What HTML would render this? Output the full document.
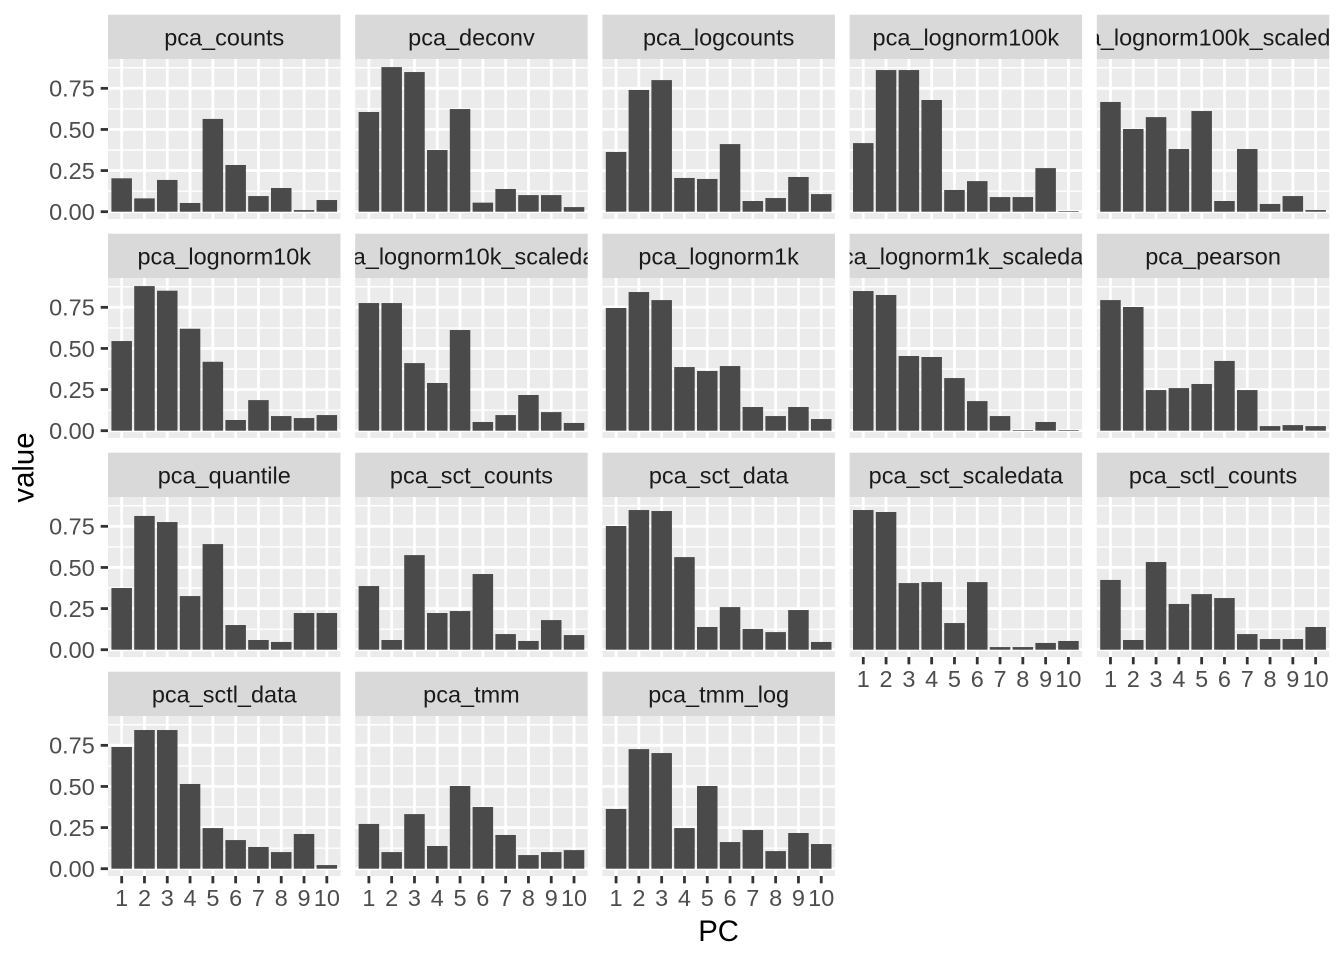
<!DOCTYPE html>
<html>
<head>
<meta charset="utf-8">
<style>
html,body{margin:0;padding:0;background:#fff;}
svg{display:block;}
text{font-family:"Liberation Sans",Arial,sans-serif;}
</style>
</head>
<body>
<svg width="1344" height="960" viewBox="0 0 1344 960" xmlns="http://www.w3.org/2000/svg">
<defs>
  <g id="grid">
    <rect x="0" y="-152.7" width="232.5" height="160" fill="#EBEBEB"/>
    <g stroke="#FFFFFF" stroke-width="1.4">
      <line x1="0" x2="232.5" y1="-20.56" y2="-20.56"/>
      <line x1="0" x2="232.5" y1="-61.69" y2="-61.69"/>
      <line x1="0" x2="232.5" y1="-102.81" y2="-102.81"/>
      <line x1="0" x2="232.5" y1="-143.94" y2="-143.94"/>
    </g>
    <g stroke="#FFFFFF" stroke-width="2.8">
      <line x1="0" x2="232.5" y1="0" y2="0"/>
      <line x1="0" x2="232.5" y1="-41.125" y2="-41.125"/>
      <line x1="0" x2="232.5" y1="-82.25" y2="-82.25"/>
      <line x1="0" x2="232.5" y1="-123.375" y2="-123.375"/>
      <line y1="-152.7" y2="7.3" x1="13.68" x2="13.68"/>
      <line y1="-152.7" y2="7.3" x1="36.47" x2="36.47"/>
      <line y1="-152.7" y2="7.3" x1="59.27" x2="59.27"/>
      <line y1="-152.7" y2="7.3" x1="82.06" x2="82.06"/>
      <line y1="-152.7" y2="7.3" x1="104.86" x2="104.86"/>
      <line y1="-152.7" y2="7.3" x1="127.65" x2="127.65"/>
      <line y1="-152.7" y2="7.3" x1="150.45" x2="150.45"/>
      <line y1="-152.7" y2="7.3" x1="173.24" x2="173.24"/>
      <line y1="-152.7" y2="7.3" x1="196.04" x2="196.04"/>
      <line y1="-152.7" y2="7.3" x1="218.83" x2="218.83"/>
    </g>
    <rect x="0" y="-197" width="232.5" height="44.3" fill="#D9D9D9"/>
  </g>
  <clipPath id="sc" clipPathUnits="userSpaceOnUse">
    <rect x="0" y="-197" width="232.5" height="44.3"/>
  </clipPath>
  <g id="xt">
    <g stroke="#333333" stroke-width="2.8">
      <line x1="13.68" x2="13.68" y1="0" y2="7.33"/>
      <line x1="36.47" x2="36.47" y1="0" y2="7.33"/>
      <line x1="59.27" x2="59.27" y1="0" y2="7.33"/>
      <line x1="82.06" x2="82.06" y1="0" y2="7.33"/>
      <line x1="104.86" x2="104.86" y1="0" y2="7.33"/>
      <line x1="127.65" x2="127.65" y1="0" y2="7.33"/>
      <line x1="150.45" x2="150.45" y1="0" y2="7.33"/>
      <line x1="173.24" x2="173.24" y1="0" y2="7.33"/>
      <line x1="196.04" x2="196.04" y1="0" y2="7.33"/>
      <line x1="218.83" x2="218.83" y1="0" y2="7.33"/>
    </g>
  </g>
  <g id="yt" stroke="#333333" stroke-width="2.8">
    <line x1="-7.33" x2="0" y1="0" y2="0"/>
    <line x1="-7.33" x2="0" y1="-41.125" y2="-41.125"/>
    <line x1="-7.33" x2="0" y1="-82.25" y2="-82.25"/>
    <line x1="-7.33" x2="0" y1="-123.375" y2="-123.375"/>
  </g>
</defs>

<!-- Panel backgrounds / grids / strips -->
<use href="#grid" transform="translate(108,211.7)"/>
<use href="#grid" transform="translate(355.2,211.7)"/>
<use href="#grid" transform="translate(602.4,211.7)"/>
<use href="#grid" transform="translate(849.6,211.7)"/>
<use href="#grid" transform="translate(1096.8,211.7)"/>
<use href="#grid" transform="translate(108,430.7)"/>
<use href="#grid" transform="translate(355.2,430.7)"/>
<use href="#grid" transform="translate(602.4,430.7)"/>
<use href="#grid" transform="translate(849.6,430.7)"/>
<use href="#grid" transform="translate(1096.8,430.7)"/>
<use href="#grid" transform="translate(108,649.7)"/>
<use href="#grid" transform="translate(355.2,649.7)"/>
<use href="#grid" transform="translate(602.4,649.7)"/>
<use href="#grid" transform="translate(849.6,649.7)"/>
<use href="#grid" transform="translate(1096.8,649.7)"/>
<use href="#grid" transform="translate(108,868.7)"/>
<use href="#grid" transform="translate(355.2,868.7)"/>
<use href="#grid" transform="translate(602.4,868.7)"/>

<!-- Strip labels -->
<g font-size="23.47" fill="#1A1A1A" text-anchor="middle">
  <g transform="translate(108,211.7)" clip-path="url(#sc)"><text x="116.25" y="-166.2">pca_counts</text></g>
  <g transform="translate(355.2,211.7)" clip-path="url(#sc)"><text x="116.25" y="-166.2">pca_deconv</text></g>
  <g transform="translate(602.4,211.7)" clip-path="url(#sc)"><text x="116.25" y="-166.2">pca_logcounts</text></g>
  <g transform="translate(849.6,211.7)" clip-path="url(#sc)"><text x="116.25" y="-166.2">pca_lognorm100k</text></g>
  <g transform="translate(1096.8,211.7)" clip-path="url(#sc)"><text x="116.25" y="-166.2">pca_lognorm100k_scaledata</text></g>
  <g transform="translate(108,430.7)" clip-path="url(#sc)"><text x="116.25" y="-166.2">pca_lognorm10k</text></g>
  <g transform="translate(355.2,430.7)" clip-path="url(#sc)"><text x="116.25" y="-166.2">pca_lognorm10k_scaledata</text></g>
  <g transform="translate(602.4,430.7)" clip-path="url(#sc)"><text x="116.25" y="-166.2">pca_lognorm1k</text></g>
  <g transform="translate(849.6,430.7)" clip-path="url(#sc)"><text x="116.25" y="-166.2">pca_lognorm1k_scaledata</text></g>
  <g transform="translate(1096.8,430.7)" clip-path="url(#sc)"><text x="116.25" y="-166.2">pca_pearson</text></g>
  <g transform="translate(108,649.7)" clip-path="url(#sc)"><text x="116.25" y="-166.2">pca_quantile</text></g>
  <g transform="translate(355.2,649.7)" clip-path="url(#sc)"><text x="116.25" y="-166.2">pca_sct_counts</text></g>
  <g transform="translate(602.4,649.7)" clip-path="url(#sc)"><text x="116.25" y="-166.2">pca_sct_data</text></g>
  <g transform="translate(849.6,649.7)" clip-path="url(#sc)"><text x="116.25" y="-166.2">pca_sct_scaledata</text></g>
  <g transform="translate(1096.8,649.7)" clip-path="url(#sc)"><text x="116.25" y="-166.2">pca_sctl_counts</text></g>
  <g transform="translate(108,868.7)" clip-path="url(#sc)"><text x="116.25" y="-166.2">pca_sctl_data</text></g>
  <g transform="translate(355.2,868.7)" clip-path="url(#sc)"><text x="116.25" y="-166.2">pca_tmm</text></g>
  <g transform="translate(602.4,868.7)" clip-path="url(#sc)"><text x="116.25" y="-166.2">pca_tmm_log</text></g>
</g>

<!-- Bars -->
<g fill="#4A4A4A">
  <!-- pca_counts -->
  <g transform="translate(108,211.7) scale(1,-164.5)">
    <rect x="3.42" y="0" width="20.51" height="0.203"/><rect x="26.22" y="0" width="20.51" height="0.081"/><rect x="49.01" y="0" width="20.51" height="0.193"/><rect x="71.81" y="0" width="20.51" height="0.053"/><rect x="94.60" y="0" width="20.51" height="0.564"/><rect x="117.40" y="0" width="20.51" height="0.284"/><rect x="140.19" y="0" width="20.51" height="0.095"/><rect x="162.99" y="0" width="20.51" height="0.144"/><rect x="185.78" y="0" width="20.51" height="0.010"/><rect x="208.58" y="0" width="20.51" height="0.071"/>
  </g>
  <!-- pca_deconv -->
  <g transform="translate(355.2,211.7) scale(1,-164.5)">
    <rect x="3.42" y="0" width="20.51" height="0.606"/><rect x="26.22" y="0" width="20.51" height="0.879"/><rect x="49.01" y="0" width="20.51" height="0.849"/><rect x="71.81" y="0" width="20.51" height="0.375"/><rect x="94.60" y="0" width="20.51" height="0.624"/><rect x="117.40" y="0" width="20.51" height="0.055"/><rect x="140.19" y="0" width="20.51" height="0.138"/><rect x="162.99" y="0" width="20.51" height="0.101"/><rect x="185.78" y="0" width="20.51" height="0.101"/><rect x="208.58" y="0" width="20.51" height="0.028"/>
  </g>
  <!-- pca_logcounts -->
  <g transform="translate(602.4,211.7) scale(1,-164.5)">
    <rect x="3.42" y="0" width="20.51" height="0.363"/><rect x="26.22" y="0" width="20.51" height="0.740"/><rect x="49.01" y="0" width="20.51" height="0.800"/><rect x="71.81" y="0" width="20.51" height="0.205"/><rect x="94.60" y="0" width="20.51" height="0.199"/><rect x="117.40" y="0" width="20.51" height="0.411"/><rect x="140.19" y="0" width="20.51" height="0.065"/><rect x="162.99" y="0" width="20.51" height="0.083"/><rect x="185.78" y="0" width="20.51" height="0.211"/><rect x="208.58" y="0" width="20.51" height="0.107"/>
  </g>
  <!-- pca_lognorm100k -->
  <g transform="translate(849.6,211.7) scale(1,-164.5)">
    <rect x="3.42" y="0" width="20.51" height="0.417"/><rect x="26.22" y="0" width="20.51" height="0.861"/><rect x="49.01" y="0" width="20.51" height="0.861"/><rect x="71.81" y="0" width="20.51" height="0.679"/><rect x="94.60" y="0" width="20.51" height="0.132"/><rect x="117.40" y="0" width="20.51" height="0.186"/><rect x="140.19" y="0" width="20.51" height="0.089"/><rect x="162.99" y="0" width="20.51" height="0.089"/><rect x="185.78" y="0" width="20.51" height="0.265"/><rect x="208.58" y="0" width="20.51" height="0.004"/>
  </g>
  <!-- pca_lognorm100k_scaledata -->
  <g transform="translate(1096.8,211.7) scale(1,-164.5)">
    <rect x="3.42" y="0" width="20.51" height="0.667"/><rect x="26.22" y="0" width="20.51" height="0.503"/><rect x="49.01" y="0" width="20.51" height="0.575"/><rect x="71.81" y="0" width="20.51" height="0.381"/><rect x="94.60" y="0" width="20.51" height="0.612"/><rect x="117.40" y="0" width="20.51" height="0.065"/><rect x="140.19" y="0" width="20.51" height="0.381"/><rect x="162.99" y="0" width="20.51" height="0.047"/><rect x="185.78" y="0" width="20.51" height="0.095"/><rect x="208.58" y="0" width="20.51" height="0.010"/>
  </g>
  <!-- pca_lognorm10k -->
  <g transform="translate(108,430.7) scale(1,-164.5)">
    <rect x="3.42" y="0" width="20.51" height="0.545"/><rect x="26.22" y="0" width="20.51" height="0.879"/><rect x="49.01" y="0" width="20.51" height="0.851"/><rect x="71.81" y="0" width="20.51" height="0.620"/><rect x="94.60" y="0" width="20.51" height="0.419"/><rect x="117.40" y="0" width="20.51" height="0.065"/><rect x="140.19" y="0" width="20.51" height="0.186"/><rect x="162.99" y="0" width="20.51" height="0.089"/><rect x="185.78" y="0" width="20.51" height="0.077"/><rect x="208.58" y="0" width="20.51" height="0.095"/>
  </g>
  <!-- pca_lognorm10k_scaledata -->
  <g transform="translate(355.2,430.7) scale(1,-164.5)">
    <rect x="3.42" y="0" width="20.51" height="0.776"/><rect x="26.22" y="0" width="20.51" height="0.776"/><rect x="49.01" y="0" width="20.51" height="0.411"/><rect x="71.81" y="0" width="20.51" height="0.290"/><rect x="94.60" y="0" width="20.51" height="0.612"/><rect x="117.40" y="0" width="20.51" height="0.053"/><rect x="140.19" y="0" width="20.51" height="0.095"/><rect x="162.99" y="0" width="20.51" height="0.217"/><rect x="185.78" y="0" width="20.51" height="0.113"/><rect x="208.58" y="0" width="20.51" height="0.047"/>
  </g>
  <!-- pca_lognorm1k -->
  <g transform="translate(602.4,430.7) scale(1,-164.5)">
    <rect x="3.42" y="0" width="20.51" height="0.746"/><rect x="26.22" y="0" width="20.51" height="0.843"/><rect x="49.01" y="0" width="20.51" height="0.794"/><rect x="71.81" y="0" width="20.51" height="0.387"/><rect x="94.60" y="0" width="20.51" height="0.363"/><rect x="117.40" y="0" width="20.51" height="0.393"/><rect x="140.19" y="0" width="20.51" height="0.144"/><rect x="162.99" y="0" width="20.51" height="0.089"/><rect x="185.78" y="0" width="20.51" height="0.144"/><rect x="208.58" y="0" width="20.51" height="0.071"/>
  </g>
  <!-- pca_lognorm1k_scaledata -->
  <g transform="translate(849.6,430.7) scale(1,-164.5)">
    <rect x="3.42" y="0" width="20.51" height="0.849"/><rect x="26.22" y="0" width="20.51" height="0.825"/><rect x="49.01" y="0" width="20.51" height="0.454"/><rect x="71.81" y="0" width="20.51" height="0.448"/><rect x="94.60" y="0" width="20.51" height="0.320"/><rect x="117.40" y="0" width="20.51" height="0.180"/><rect x="140.19" y="0" width="20.51" height="0.089"/><rect x="162.99" y="0" width="20.51" height="0.004"/><rect x="185.78" y="0" width="20.51" height="0.053"/><rect x="208.58" y="0" width="20.51" height="0.004"/>
  </g>
  <!-- pca_pearson -->
  <g transform="translate(1096.8,430.7) scale(1,-164.5)">
    <rect x="3.42" y="0" width="20.51" height="0.794"/><rect x="26.22" y="0" width="20.51" height="0.752"/><rect x="49.01" y="0" width="20.51" height="0.247"/><rect x="71.81" y="0" width="20.51" height="0.259"/><rect x="94.60" y="0" width="20.51" height="0.284"/><rect x="117.40" y="0" width="20.51" height="0.424"/><rect x="140.19" y="0" width="20.51" height="0.247"/><rect x="162.99" y="0" width="20.51" height="0.028"/><rect x="185.78" y="0" width="20.51" height="0.034"/><rect x="208.58" y="0" width="20.51" height="0.028"/>
  </g>
  <!-- pca_quantile -->
  <g transform="translate(108,649.7) scale(1,-164.5)">
    <rect x="3.42" y="0" width="20.51" height="0.375"/><rect x="26.22" y="0" width="20.51" height="0.813"/><rect x="49.01" y="0" width="20.51" height="0.776"/><rect x="71.81" y="0" width="20.51" height="0.326"/><rect x="94.60" y="0" width="20.51" height="0.642"/><rect x="117.40" y="0" width="20.51" height="0.150"/><rect x="140.19" y="0" width="20.51" height="0.059"/><rect x="162.99" y="0" width="20.51" height="0.047"/><rect x="185.78" y="0" width="20.51" height="0.223"/><rect x="208.58" y="0" width="20.51" height="0.223"/>
  </g>
  <!-- pca_sct_counts -->
  <g transform="translate(355.2,649.7) scale(1,-164.5)">
    <rect x="3.42" y="0" width="20.51" height="0.387"/><rect x="26.22" y="0" width="20.51" height="0.059"/><rect x="49.01" y="0" width="20.51" height="0.575"/><rect x="71.81" y="0" width="20.51" height="0.223"/><rect x="94.60" y="0" width="20.51" height="0.235"/><rect x="117.40" y="0" width="20.51" height="0.460"/><rect x="140.19" y="0" width="20.51" height="0.095"/><rect x="162.99" y="0" width="20.51" height="0.053"/><rect x="185.78" y="0" width="20.51" height="0.180"/><rect x="208.58" y="0" width="20.51" height="0.089"/>
  </g>
  <!-- pca_sct_data -->
  <g transform="translate(602.4,649.7) scale(1,-164.5)">
    <rect x="3.42" y="0" width="20.51" height="0.752"/><rect x="26.22" y="0" width="20.51" height="0.849"/><rect x="49.01" y="0" width="20.51" height="0.843"/><rect x="71.81" y="0" width="20.51" height="0.563"/><rect x="94.60" y="0" width="20.51" height="0.138"/><rect x="117.40" y="0" width="20.51" height="0.259"/><rect x="140.19" y="0" width="20.51" height="0.126"/><rect x="162.99" y="0" width="20.51" height="0.107"/><rect x="185.78" y="0" width="20.51" height="0.241"/><rect x="208.58" y="0" width="20.51" height="0.047"/>
  </g>
  <!-- pca_sct_scaledata -->
  <g transform="translate(849.6,649.7) scale(1,-164.5)">
    <rect x="3.42" y="0" width="20.51" height="0.849"/><rect x="26.22" y="0" width="20.51" height="0.837"/><rect x="49.01" y="0" width="20.51" height="0.405"/><rect x="71.81" y="0" width="20.51" height="0.411"/><rect x="94.60" y="0" width="20.51" height="0.162"/><rect x="117.40" y="0" width="20.51" height="0.411"/><rect x="140.19" y="0" width="20.51" height="0.016"/><rect x="162.99" y="0" width="20.51" height="0.016"/><rect x="185.78" y="0" width="20.51" height="0.041"/><rect x="208.58" y="0" width="20.51" height="0.053"/>
  </g>
  <!-- pca_sctl_counts -->
  <g transform="translate(1096.8,649.7) scale(1,-164.5)">
    <rect x="3.42" y="0" width="20.51" height="0.424"/><rect x="26.22" y="0" width="20.51" height="0.059"/><rect x="49.01" y="0" width="20.51" height="0.533"/><rect x="71.81" y="0" width="20.51" height="0.278"/><rect x="94.60" y="0" width="20.51" height="0.338"/><rect x="117.40" y="0" width="20.51" height="0.314"/><rect x="140.19" y="0" width="20.51" height="0.095"/><rect x="162.99" y="0" width="20.51" height="0.065"/><rect x="185.78" y="0" width="20.51" height="0.065"/><rect x="208.58" y="0" width="20.51" height="0.138"/>
  </g>
  <!-- pca_sctl_data -->
  <g transform="translate(108,868.7) scale(1,-164.5)">
    <rect x="3.42" y="0" width="20.51" height="0.740"/><rect x="26.22" y="0" width="20.51" height="0.843"/><rect x="49.01" y="0" width="20.51" height="0.843"/><rect x="71.81" y="0" width="20.51" height="0.515"/><rect x="94.60" y="0" width="20.51" height="0.247"/><rect x="117.40" y="0" width="20.51" height="0.174"/><rect x="140.19" y="0" width="20.51" height="0.132"/><rect x="162.99" y="0" width="20.51" height="0.101"/><rect x="185.78" y="0" width="20.51" height="0.211"/><rect x="208.58" y="0" width="20.51" height="0.022"/>
  </g>
  <!-- pca_tmm -->
  <g transform="translate(355.2,868.7) scale(1,-164.5)">
    <rect x="3.42" y="0" width="20.51" height="0.272"/><rect x="26.22" y="0" width="20.51" height="0.101"/><rect x="49.01" y="0" width="20.51" height="0.332"/><rect x="71.81" y="0" width="20.51" height="0.138"/><rect x="94.60" y="0" width="20.51" height="0.503"/><rect x="117.40" y="0" width="20.51" height="0.375"/><rect x="140.19" y="0" width="20.51" height="0.205"/><rect x="162.99" y="0" width="20.51" height="0.083"/><rect x="185.78" y="0" width="20.51" height="0.101"/><rect x="208.58" y="0" width="20.51" height="0.113"/>
  </g>
  <!-- pca_tmm_log -->
  <g transform="translate(602.4,868.7) scale(1,-164.5)">
    <rect x="3.42" y="0" width="20.51" height="0.363"/><rect x="26.22" y="0" width="20.51" height="0.727"/><rect x="49.01" y="0" width="20.51" height="0.703"/><rect x="71.81" y="0" width="20.51" height="0.247"/><rect x="94.60" y="0" width="20.51" height="0.503"/><rect x="117.40" y="0" width="20.51" height="0.162"/><rect x="140.19" y="0" width="20.51" height="0.235"/><rect x="162.99" y="0" width="20.51" height="0.107"/><rect x="185.78" y="0" width="20.51" height="0.217"/><rect x="208.58" y="0" width="20.51" height="0.150"/>
  </g>
</g>

<!-- Y axis ticks -->
<use href="#yt" transform="translate(108,211.7)"/>
<use href="#yt" transform="translate(108,430.7)"/>
<use href="#yt" transform="translate(108,649.7)"/>
<use href="#yt" transform="translate(108,868.7)"/>

<!-- Y axis labels -->
<g font-size="23.47" fill="#4D4D4D" text-anchor="end">
  <text x="94.8" y="220.1">0.00</text>
  <text x="94.8" y="179.0">0.25</text>
  <text x="94.8" y="137.9">0.50</text>
  <text x="94.8" y="96.7">0.75</text>
  <text x="94.8" y="439.1">0.00</text>
  <text x="94.8" y="398.0">0.25</text>
  <text x="94.8" y="356.9">0.50</text>
  <text x="94.8" y="315.7">0.75</text>
  <text x="94.8" y="658.1">0.00</text>
  <text x="94.8" y="617.0">0.25</text>
  <text x="94.8" y="575.9">0.50</text>
  <text x="94.8" y="534.7">0.75</text>
  <text x="94.8" y="877.1">0.00</text>
  <text x="94.8" y="836.0">0.25</text>
  <text x="94.8" y="794.9">0.50</text>
  <text x="94.8" y="753.7">0.75</text>
</g>

<!-- X axis ticks -->
<use href="#xt" transform="translate(108,876)"/>
<use href="#xt" transform="translate(355.2,876)"/>
<use href="#xt" transform="translate(602.4,876)"/>
<use href="#xt" transform="translate(849.6,657)"/>
<use href="#xt" transform="translate(1096.8,657)"/>

<!-- X axis labels -->
<g font-size="23.47" fill="#4D4D4D" text-anchor="middle">
  <g transform="translate(108,906)">
    <text x="13.68" y="0">1</text><text x="36.47" y="0">2</text><text x="59.27" y="0">3</text><text x="82.06" y="0">4</text><text x="104.86" y="0">5</text><text x="127.65" y="0">6</text><text x="150.45" y="0">7</text><text x="173.24" y="0">8</text><text x="196.04" y="0">9</text><text x="218.83" y="0">10</text>
  </g>
  <g transform="translate(355.2,906)">
    <text x="13.68" y="0">1</text><text x="36.47" y="0">2</text><text x="59.27" y="0">3</text><text x="82.06" y="0">4</text><text x="104.86" y="0">5</text><text x="127.65" y="0">6</text><text x="150.45" y="0">7</text><text x="173.24" y="0">8</text><text x="196.04" y="0">9</text><text x="218.83" y="0">10</text>
  </g>
  <g transform="translate(602.4,906)">
    <text x="13.68" y="0">1</text><text x="36.47" y="0">2</text><text x="59.27" y="0">3</text><text x="82.06" y="0">4</text><text x="104.86" y="0">5</text><text x="127.65" y="0">6</text><text x="150.45" y="0">7</text><text x="173.24" y="0">8</text><text x="196.04" y="0">9</text><text x="218.83" y="0">10</text>
  </g>
  <g transform="translate(849.6,687)">
    <text x="13.68" y="0">1</text><text x="36.47" y="0">2</text><text x="59.27" y="0">3</text><text x="82.06" y="0">4</text><text x="104.86" y="0">5</text><text x="127.65" y="0">6</text><text x="150.45" y="0">7</text><text x="173.24" y="0">8</text><text x="196.04" y="0">9</text><text x="218.83" y="0">10</text>
  </g>
  <g transform="translate(1096.8,687)">
    <text x="13.68" y="0">1</text><text x="36.47" y="0">2</text><text x="59.27" y="0">3</text><text x="82.06" y="0">4</text><text x="104.86" y="0">5</text><text x="127.65" y="0">6</text><text x="150.45" y="0">7</text><text x="173.24" y="0">8</text><text x="196.04" y="0">9</text><text x="218.83" y="0">10</text>
  </g>
</g>

<!-- Axis titles -->
<text x="718.6" y="941" font-size="29.33" fill="#000000" text-anchor="middle">PC</text>
<text transform="translate(33.5,467.5) rotate(-90)" x="0" y="0" font-size="29.33" fill="#000000" text-anchor="middle">value</text>
</svg>
</body>
</html>
